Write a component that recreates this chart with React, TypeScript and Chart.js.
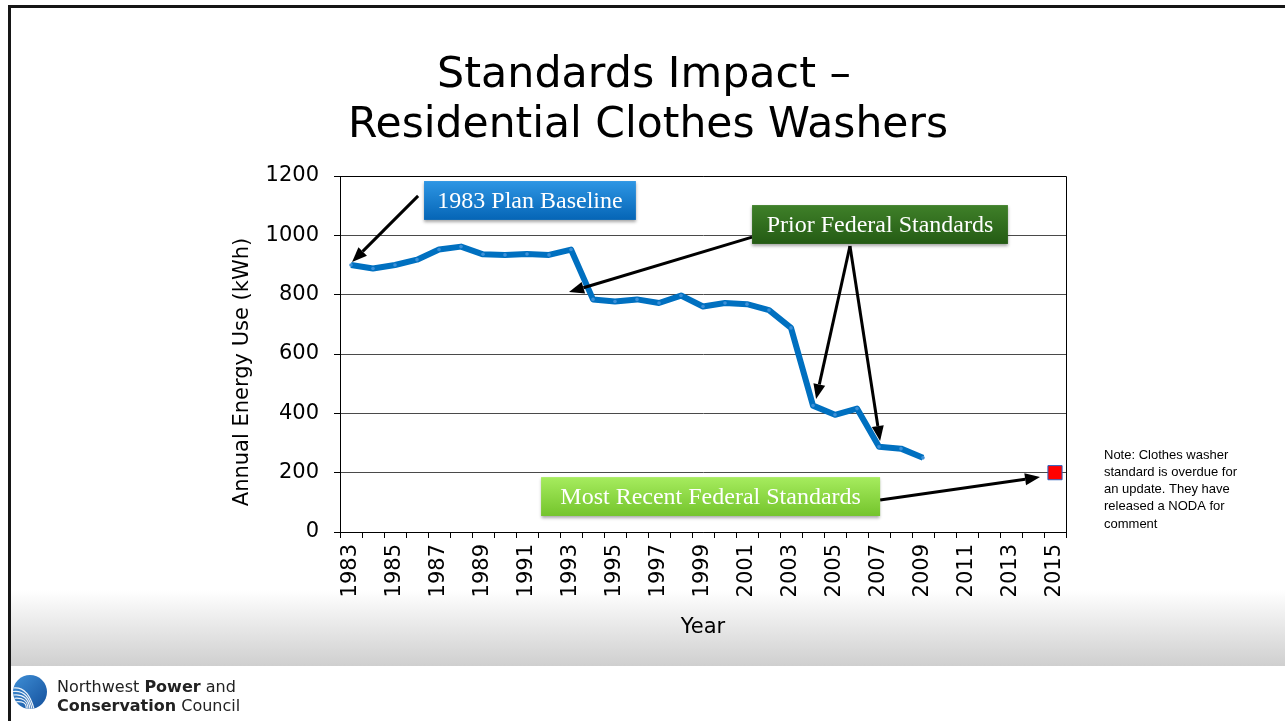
import React, { useEffect, useRef } from 'react';
import { Chart, registerables } from 'chart.js';

Chart.register(...registerables);

const yearLabels = [
  '1983', '1984', '1985', '1986', '1987', '1988', '1989', '1990', '1991', '1992', '1993',
  '1994', '1995', '1996', '1997', '1998', '1999', '2000', '2001', '2002', '2003', '2004',
  '2005', '2006', '2007', '2008', '2009', '2010', '2011', '2012', '2013', '2014', '2015',
];

const annualEnergyUse = [
  900, 888, 900, 918, 952, 962, 936, 934, 937, 934, 952,
  784, 777, 784, 772, 797, 760, 772, 768, 748, 688, 426,
  395, 416, 287, 281, 250, null, null, null, null, null, null,
];

const recentStandard = [
  null, null, null, null, null, null, null, null, null, null, null,
  null, null, null, null, null, null, null, null, null, null, null,
  null, null, null, null, null, null, null, null, null, null, 200,
];

const yTickValues = [0, 200, 400, 600, 800, 1000, 1200];

const titleLines = ['Standards Impact –', 'Residential Clothes Washers'];
const yAxisTitle = 'Annual Energy Use (kWh)';
const xAxisTitle = 'Year';
const noteLines = [
  'Note: Clothes washer',
  'standard is overdue for',
  'an update. They have',
  'released a NODA for',
  'comment',
];
const calloutTexts = ['1983 Plan Baseline', 'Prior Federal Standards', 'Most Recent Federal Standards'];

// Annotation geometry in data units (category index, kWh)
const callouts = [
  { text: calloutTexts[0], x0: 3.32, x1: 12.95, v0: 1183, v1: 1052, top: '#2e96e4', bottom: '#0565b6' },
  { text: calloutTexts[1], x0: 18.23, x1: 29.86, v0: 1102, v1: 971, top: '#3f8029', bottom: '#245b14' },
  { text: calloutTexts[2], x0: 8.64, x1: 24.05, v0: 185, v1: 54, top: '#a6ec5e', bottom: '#74c42c' },
];
const arrows = [
  { from: [3.05, 1133], to: [0.05, 910] },
  { from: [18.23, 994], to: [9.91, 809] },
  { from: [22.68, 964], to: [21.14, 448] },
  { from: [22.68, 964], to: [24.05, 307] },
  { from: [24.05, 108], to: [31.32, 185] },
];

function drawArrow(ctx: CanvasRenderingContext2D, x1: number, y1: number, x2: number, y2: number) {
  const ang = Math.atan2(y2 - y1, x2 - x1);
  const head = 15;
  const half = 6;
  const bx = x2 - head * Math.cos(ang);
  const by = y2 - head * Math.sin(ang);
  ctx.save();
  ctx.strokeStyle = '#000';
  ctx.fillStyle = '#000';
  ctx.lineWidth = 3;
  ctx.beginPath();
  ctx.moveTo(x1, y1);
  ctx.lineTo(bx, by);
  ctx.stroke();
  ctx.beginPath();
  ctx.moveTo(x2, y2);
  ctx.lineTo(bx + half * Math.sin(ang), by - half * Math.cos(ang));
  ctx.lineTo(bx - half * Math.sin(ang), by + half * Math.cos(ang));
  ctx.closePath();
  ctx.fill();
  ctx.restore();
}

function fitText(ctx: CanvasRenderingContext2D, text: string, cx: number, y: number, target: number) {
  const w = ctx.measureText(text).width;
  const s = target / w;
  ctx.save();
  ctx.translate(cx, y);
  ctx.scale(s, 1);
  ctx.textAlign = 'center';
  ctx.fillText(text, 0, 0);
  ctx.restore();
}

const pagePlugin = {
  id: 'pageDecor',
  beforeDraw(chart: any) {
    const ctx = chart.ctx as CanvasRenderingContext2D;
    const W = chart.width;
    const H = chart.height;
    ctx.save();
    ctx.fillStyle = '#ffffff';
    ctx.fillRect(0, 0, W, H);
    const g = ctx.createLinearGradient(0, 590, 0, 666);
    g.addColorStop(0, '#ffffff');
    g.addColorStop(1, '#cfcfcf');
    ctx.fillStyle = g;
    ctx.fillRect(11, 590, W - 11, 76);
    ctx.fillStyle = '#161616';
    ctx.fillRect(8, 5, W - 8, 3);
    ctx.fillRect(8, 5, 3, H - 5);
    ctx.restore();
  },
  afterDraw(chart: any) {
    const ctx = chart.ctx as CanvasRenderingContext2D;
    const area = chart.chartArea;
    const xs = chart.scales.x;
    const ys = chart.scales.y;
    const P = (p: number[]) => [xs.getPixelForValue(p[0]), ys.getPixelForValue(p[1])];

    ctx.save();
    // plot frame
    ctx.strokeStyle = '#000';
    ctx.lineWidth = 1;
    ctx.beginPath();
    ctx.moveTo(Math.round(area.left) + 0.5, Math.round(area.top) + 0.5);
    ctx.lineTo(Math.round(area.right) + 0.5, Math.round(area.top) + 0.5);
    ctx.lineTo(Math.round(area.right) + 0.5, Math.round(area.bottom) + 0.5);
    ctx.stroke();

    // arrows
    arrows.forEach((a) => {
      const [x1, y1] = P(a.from);
      const [x2, y2] = P(a.to);
      drawArrow(ctx, x1, y1, x2, y2);
    });

    // callout boxes
    callouts.forEach((c) => {
      const [l, t] = P([c.x0, c.v0]);
      const [r, b] = P([c.x1, c.v1]);
      const grad = ctx.createLinearGradient(0, t, 0, b);
      grad.addColorStop(0, c.top);
      grad.addColorStop(1, c.bottom);
      ctx.save();
      ctx.shadowColor = 'rgba(0,0,0,0.35)';
      ctx.shadowBlur = 3;
      ctx.shadowOffsetY = 2;
      ctx.fillStyle = grad;
      ctx.fillRect(l, t, r - l, b - t);
      ctx.restore();
      ctx.fillStyle = '#ffffff';
      ctx.font = '24px "Liberation Serif", "Times New Roman", serif';
      ctx.textAlign = 'center';
      ctx.textBaseline = 'middle';
      ctx.fillText(c.text, (l + r) / 2, (t + b) / 2 + 1);
    });

    // title
    ctx.fillStyle = '#000';
    ctx.textBaseline = 'alphabetic';
    ctx.font = '42px "DejaVu Sans", Verdana, sans-serif';
    fitText(ctx, titleLines[0], 644, 87, 414);
    fitText(ctx, titleLines[1], 648, 137, 600);

    // axis titles
    ctx.font = '21px "DejaVu Sans", Verdana, sans-serif';
    ctx.textAlign = 'center';
    ctx.textBaseline = 'middle';
    ctx.fillText(xAxisTitle, (area.left + area.right) / 2, 628);
    ctx.save();
    ctx.translate(243, 372);
    ctx.rotate(-Math.PI / 2);
    ctx.fillText(yAxisTitle, 0, 0);
    ctx.restore();

    // note
    ctx.font = '13px "Liberation Sans", Arial, sans-serif';
    ctx.textAlign = 'left';
    ctx.textBaseline = 'middle';
    noteLines.forEach((ln, i) => ctx.fillText(ln, 1104, 455 + i * 17.3));

    // logo
    const cx = 30, cy = 692, rr = 17;
    const lg = ctx.createLinearGradient(cx - rr, cy - rr, cx + rr, cy + rr);
    lg.addColorStop(0, '#3f8fd6');
    lg.addColorStop(1, '#14509c');
    ctx.fillStyle = lg;
    ctx.beginPath();
    ctx.arc(cx, cy, rr, 0, Math.PI * 2);
    ctx.fill();
    ctx.save();
    ctx.beginPath();
    ctx.arc(cx, cy, rr, 0, Math.PI * 2);
    ctx.clip();
    ctx.strokeStyle = 'rgba(255,255,255,0.9)';
    ctx.lineWidth = 1.2;
    for (let k = 0; k < 5; k++) {
      ctx.beginPath();
      ctx.moveTo(cx - rr, cy - 4 + k * 3.5);
      ctx.quadraticCurveTo(cx - 2, cy - 6 + k * 3.5, cx + 4 - k * 2, cy + rr);
      ctx.stroke();
    }
    ctx.restore();

    ctx.fillStyle = '#222';
    ctx.textBaseline = 'alphabetic';
    ctx.textAlign = 'left';
    const reg = '16px "DejaVu Sans", Verdana, sans-serif';
    const bold = 'bold 16px "DejaVu Sans", Verdana, sans-serif';
    let x = 57;
    ctx.font = reg; ctx.fillText('Northwest ', x, 692); x += ctx.measureText('Northwest ').width;
    ctx.font = bold; ctx.fillText('Power', x, 692); x += ctx.measureText('Power').width;
    ctx.font = reg; ctx.fillText(' and', x, 692);
    x = 57;
    ctx.font = bold; ctx.fillText('Conservation', x, 711); x += ctx.measureText('Conservation').width;
    ctx.font = reg; ctx.fillText(' Council', x, 711);

    ctx.restore();
  },
};

export default function App() {
  const ref = useRef<HTMLCanvasElement | null>(null);

  useEffect(() => {
    const canvas = ref.current;
    if (!canvas) return;
    const tickFont = { family: '"DejaVu Sans", Verdana, sans-serif', size: 21 };
    const chart = new Chart(canvas, {
      type: 'line',
      data: {
        labels: yearLabels,
        datasets: [
          {
            label: 'Annual Energy Use',
            data: annualEnergyUse,
            borderColor: '#0070c0',
            backgroundColor: '#0070c0',
            borderWidth: 6,
            pointRadius: 1.8,
            pointBackgroundColor: '#3d90d8',
            pointBorderWidth: 0,
            tension: 0,
            spanGaps: false,
            borderJoinStyle: 'round',
          },
          {
            label: 'Most Recent Federal Standards',
            data: recentStandard,
            showLine: false,
            pointStyle: 'rect',
            pointRadius: 10,
            pointBackgroundColor: '#ff0000',
            pointBorderColor: '#2a62c0',
            pointBorderWidth: 1,
          },
        ],
      },
      options: {
        animation: false,
        responsive: false,
        events: [],
        layout: { padding: { left: 0, right: 219, top: 176, bottom: 0 } },
        plugins: {
          legend: { display: false },
          tooltip: { enabled: false },
          title: { display: false },
        },
        scales: {
          x: {
            type: 'category',
            offset: true,
            grid: {
              offset: true,
              drawOnChartArea: false,
              drawTicks: true,
              tickLength: 6,
              color: '#000',
            },
            border: { color: '#000', width: 1 },
            ticks: {
              autoSkip: false,
              maxRotation: 90,
              minRotation: 90,
              padding: 6,
              color: '#000',
              font: tickFont,
              callback: (_v: any, i: number) => (i % 2 === 0 ? yearLabels[i] : ''),
            },
            afterFit: (s: any) => { s.height = 189; },
          },
          y: {
            min: 0,
            max: 1200,
            afterBuildTicks: (s: any) => { s.ticks = yTickValues.map((v) => ({ value: v })); },
            grid: { color: '#4a4a4a', tickColor: '#000', tickLength: 6, lineWidth: 1 },
            border: { color: '#000', width: 1 },
            ticks: {
              color: '#000',
              font: tickFont,
              padding: 15,
              callback: (v: any) => String(v),
            },
            afterFit: (s: any) => { s.width = 340; },
          },
        },
      },
      plugins: [pagePlugin],
    } as any);
    return () => chart.destroy();
  }, []);

  return (
    <div style={{ position: 'fixed', left: 0, top: 0, width: 1285, height: 721, background: '#fff' }}>
      <canvas ref={ref} width={1285} height={721} style={{ display: 'block' }} />
    </div>
  );
}
